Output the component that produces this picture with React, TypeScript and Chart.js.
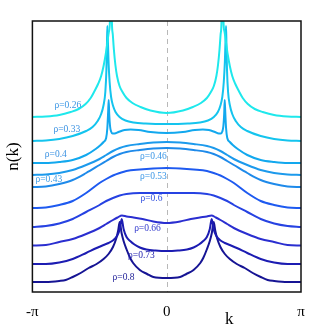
import { useEffect, useRef } from "react";
import { Chart, registerables } from "chart.js";

Chart.register(...registerables);

// k in units of pi; n(k) curves vertically offset (arbitrary units)
const K_TICKS = [-1, 0, 1];
const K_TICK_LABELS = ["-π", "0", "π"];

const RHO = ["ρ=0.26", "ρ=0.33", "ρ=0.4", "ρ=0.43", "ρ=0.46", "ρ=0.53", "ρ=0.6", "ρ=0.66", "ρ=0.73", "ρ=0.8"];

const K_026 = [-1, -0.9, -0.8, -0.715, -0.656, -0.604, -0.566, -0.537, -0.511, -0.488, -0.47, -0.455, -0.442, -0.431, -0.423, -0.416, -0.408, -0.401, -0.393, -0.382, -0.37, -0.351, -0.329, -0.299, -0.255, -0.195, -0.121, 0, 0.121, 0.195, 0.255, 0.299, 0.329, 0.351, 0.37, 0.382, 0.393, 0.401, 0.408, 0.416, 0.423, 0.431, 0.442, 0.455, 0.47, 0.488, 0.511, 0.537, 0.566, 0.604, 0.656, 0.715, 0.8, 0.9, 1];
const N_026 = [1.75, 1.755, 1.77, 1.8, 1.83, 1.88, 1.94, 2.01, 2.08, 2.16, 2.26, 2.37, 2.49, 2.6, 2.7, 3.4, 2.7, 2.57, 2.42, 2.27, 2.16, 2.06, 2.0, 1.94, 1.89, 1.85, 1.815, 1.79, 1.815, 1.85, 1.89, 1.94, 2.0, 2.06, 2.16, 2.27, 2.42, 2.57, 2.7, 3.4, 2.7, 2.6, 2.49, 2.37, 2.26, 2.16, 2.08, 2.01, 1.94, 1.88, 1.83, 1.8, 1.77, 1.755, 1.75];

const K_033 = [-1, -0.9, -0.8, -0.7, -0.6, -0.552, -0.514, -0.488, -0.47, -0.457, -0.449, -0.445, -0.442, -0.438, -0.433, -0.425, -0.414, -0.399, -0.381, -0.351, -0.307, -0.247, -0.158, 0, 0.158, 0.247, 0.307, 0.351, 0.381, 0.399, 0.414, 0.425, 0.433, 0.438, 0.442, 0.445, 0.449, 0.457, 0.47, 0.488, 0.514, 0.552, 0.6, 0.7, 0.8, 0.9, 1];
const N_033 = [1.51, 1.515, 1.53, 1.56, 1.61, 1.65, 1.71, 1.78, 1.87, 2.0, 2.22, 2.47, 2.66, 2.52, 2.3, 2.1, 1.95, 1.86, 1.8, 1.75, 1.715, 1.695, 1.685, 1.68, 1.685, 1.695, 1.715, 1.75, 1.8, 1.86, 1.95, 2.1, 2.3, 2.52, 2.66, 2.47, 2.22, 2.0, 1.87, 1.78, 1.71, 1.65, 1.61, 1.56, 1.53, 1.515, 1.51];

const K_040 = [-1, -0.9, -0.8, -0.7, -0.6, -0.529, -0.492, -0.47, -0.451, -0.442, -0.436, -0.432, -0.428, -0.422, -0.414, -0.403, -0.388, -0.359, -0.314, -0.269, -0.21, -0.121, 0, 0.121, 0.21, 0.269, 0.314, 0.359, 0.388, 0.403, 0.414, 0.422, 0.428, 0.432, 0.436, 0.442, 0.451, 0.47, 0.492, 0.529, 0.6, 0.7, 0.8, 0.9, 1];
const N_040 = [1.29, 1.29, 1.3, 1.32, 1.37, 1.43, 1.47, 1.5, 1.54, 1.64, 1.8, 1.92, 1.78, 1.66, 1.605, 1.585, 1.585, 1.6, 1.62, 1.625, 1.62, 1.6, 1.59, 1.6, 1.62, 1.625, 1.62, 1.6, 1.585, 1.585, 1.605, 1.66, 1.78, 1.92, 1.8, 1.64, 1.54, 1.5, 1.47, 1.43, 1.37, 1.32, 1.3, 1.29, 1.29];

const K_SMOOTH = [-1, -0.9, -0.8, -0.7, -0.6, -0.5, -0.45, -0.4, -0.35, -0.3, -0.2, -0.1, 0, 0.1, 0.2, 0.3, 0.35, 0.4, 0.45, 0.5, 0.6, 0.7, 0.8, 0.9, 1];
const N_043 = [1.17, 1.175, 1.19, 1.22, 1.27, 1.33, 1.37, 1.41, 1.44, 1.46, 1.48, 1.495, 1.5, 1.495, 1.48, 1.46, 1.44, 1.41, 1.37, 1.33, 1.27, 1.22, 1.19, 1.175, 1.17];
const N_046 = [1.05, 1.055, 1.08, 1.12, 1.19, 1.27, 1.31, 1.35, 1.38, 1.4, 1.42, 1.435, 1.44, 1.435, 1.42, 1.4, 1.38, 1.35, 1.31, 1.27, 1.19, 1.12, 1.08, 1.055, 1.05];
const N_053 = [0.84, 0.845, 0.87, 0.91, 0.99, 1.09, 1.13, 1.165, 1.19, 1.21, 1.225, 1.235, 1.24, 1.235, 1.225, 1.21, 1.19, 1.165, 1.13, 1.09, 0.99, 0.91, 0.87, 0.845, 0.84];
const N_060 = [0.65, 0.66, 0.685, 0.73, 0.8, 0.87, 0.91, 0.94, 0.965, 0.98, 0.99, 0.99, 0.99, 0.99, 0.99, 0.98, 0.965, 0.94, 0.91, 0.87, 0.8, 0.73, 0.685, 0.66, 0.65];

const K_066 = [-1, -0.9, -0.8, -0.7, -0.6, -0.5, -0.45, -0.4, -0.366, -0.333, -0.299, -0.247, -0.18, -0.1, 0, 0.1, 0.18, 0.247, 0.299, 0.333, 0.366, 0.4, 0.45, 0.5, 0.6, 0.7, 0.8, 0.9, 1];
const N_066 = [0.465, 0.47, 0.5, 0.53, 0.58, 0.64, 0.68, 0.72, 0.745, 0.765, 0.755, 0.745, 0.73, 0.705, 0.69, 0.705, 0.73, 0.745, 0.755, 0.765, 0.745, 0.72, 0.68, 0.64, 0.58, 0.53, 0.5, 0.47, 0.465];

const K_073 = [-1, -0.9, -0.8, -0.7, -0.6, -0.522, -0.47, -0.433, -0.396, -0.37, -0.351, -0.335, -0.321, -0.299, -0.272, -0.24, -0.2, -0.151, -0.084, 0, 0.084, 0.151, 0.2, 0.24, 0.272, 0.299, 0.321, 0.335, 0.351, 0.37, 0.396, 0.433, 0.47, 0.522, 0.6, 0.7, 0.8, 0.9, 1];
const N_073 = [0.28, 0.28, 0.295, 0.33, 0.39, 0.44, 0.47, 0.49, 0.52, 0.56, 0.62, 0.73, 0.63, 0.55, 0.51, 0.475, 0.445, 0.425, 0.415, 0.41, 0.415, 0.425, 0.445, 0.475, 0.51, 0.55, 0.63, 0.73, 0.62, 0.56, 0.52, 0.49, 0.47, 0.44, 0.39, 0.33, 0.295, 0.28, 0.28];

const K_080 = [-1, -0.9, -0.8, -0.752, -0.7, -0.641, -0.581, -0.522, -0.47, -0.433, -0.4, -0.377, -0.362, -0.35, -0.336, -0.321, -0.3, -0.272, -0.25, -0.2, -0.146, -0.1, 0, 0.1, 0.146, 0.2, 0.25, 0.272, 0.3, 0.321, 0.336, 0.35, 0.362, 0.377, 0.4, 0.433, 0.47, 0.522, 0.581, 0.641, 0.7, 0.752, 0.8, 0.9, 1];
const N_080 = [0.1, 0.1, 0.11, 0.12, 0.15, 0.19, 0.24, 0.28, 0.33, 0.38, 0.45, 0.53, 0.61, 0.7, 0.59, 0.51, 0.43, 0.34, 0.29, 0.22, 0.18, 0.15, 0.14, 0.15, 0.18, 0.22, 0.29, 0.34, 0.43, 0.51, 0.59, 0.7, 0.61, 0.53, 0.45, 0.38, 0.33, 0.28, 0.24, 0.19, 0.15, 0.12, 0.11, 0.1, 0.1];

const SERIES_K = [K_026, K_033, K_040, K_SMOOTH, K_SMOOTH, K_SMOOTH, K_SMOOTH, K_066, K_073, K_080];
const SERIES_N = [N_026, N_033, N_040, N_043, N_046, N_053, N_060, N_066, N_073, N_080];

const LINE_COLORS = ["#1ee8ec", "#14c4ee", "#12a8ee", "#1c9aec", "#1e8aea", "#1e5af0", "#2642e2", "#2a2ed0", "#1c1cb2", "#161494"];
const LABEL_COLORS = ["#3a96e4", "#3a92e2", "#3a92e2", "#3a9ce6", "#3a96e6", "#3a96e6", "#3250e0", "#3038cc", "#2424b0", "#1c1c96"];

// label anchors (k/pi, n)
const LABEL_K = [-0.736, -0.744, -0.826, -0.878, -0.099, -0.099, -0.114, -0.143, -0.188, -0.321];
const LABEL_N = [1.87, 1.63, 1.38, 1.13, 1.36, 1.16, 0.94, 0.64, 0.37, 0.15];

const X_TITLE = "k";
const X_TITLE_K = 0.465;
const Y_TITLE = "n(k)";

const SERIF = "'Liberation Serif', 'DejaVu Serif', serif";

const overlay = {
  id: "overlay",
  beforeDatasetsDraw(chart: any) {
    const { ctx, chartArea: a, scales } = chart;
    const x0 = Math.round(scales.x.getPixelForValue(0)) + 0.5;
    ctx.save();
    ctx.strokeStyle = "#b8b8b8";
    ctx.lineWidth = 1;
    ctx.setLineDash([5, 4]);
    ctx.beginPath();
    ctx.moveTo(x0, a.top);
    ctx.lineTo(x0, a.bottom);
    ctx.stroke();
    ctx.restore();
  },
  afterDatasetsDraw(chart: any) {
    const { ctx, chartArea: a, scales } = chart;
    ctx.save();
    ctx.strokeStyle = "#111";
    ctx.lineWidth = 1.5;
    ctx.strokeRect(a.left, a.top, a.right - a.left, a.bottom - a.top);
    ctx.font = `9.5px ${SERIF}`;
    ctx.textAlign = "center";
    ctx.textBaseline = "middle";
    RHO.forEach((t, i) => {
      ctx.fillStyle = LABEL_COLORS[i];
      ctx.fillText(t, scales.x.getPixelForValue(LABEL_K[i]), scales.y.getPixelForValue(LABEL_N[i]));
    });
    ctx.fillStyle = "#000";
    ctx.font = `17px ${SERIF}`;
    ctx.fillText(X_TITLE, scales.x.getPixelForValue(X_TITLE_K), a.bottom + 28);
    ctx.restore();
  },
};

export default function App() {
  const ref = useRef<HTMLCanvasElement | null>(null);
  useEffect(() => {
    document.body.style.margin = "0";
    document.body.style.overflow = "hidden";
    const canvas = ref.current;
    if (!canvas) return;
    const chart = new Chart(canvas, {
      type: "line",
      data: {
        datasets: SERIES_N.map((ns, i) => ({
          label: RHO[i],
          data: ns.map((n, j) => ({ x: SERIES_K[i][j], y: n })),
          borderColor: LINE_COLORS[i],
          borderWidth: 2,
          pointRadius: 0,
          fill: false,
          cubicInterpolationMode: "monotone" as const,
        })),
      },
      options: {
        animation: false,
        responsive: false,
        devicePixelRatio: 1,
        layout: { padding: { left: 0, right: 31, top: 21, bottom: 0 } },
        plugins: { legend: { display: false }, tooltip: { enabled: false } },
        scales: {
          x: {
            type: "linear",
            min: -1,
            max: 1,
            grid: { display: false, drawTicks: false },
            border: { display: false },
            afterBuildTicks: (s: any) => {
              s.ticks = K_TICKS.map((v) => ({ value: v }));
            },
            ticks: {
              autoSkip: false,
              maxRotation: 0,
              padding: 11,
              color: "#000",
              font: { family: SERIF, size: 15 },
              callback: (_v: any, i: number) => K_TICK_LABELS[i],
            },
          },
          y: {
            type: "linear",
            min: 0,
            max: 2.71,
            grid: { display: false, drawTicks: false },
            border: { display: false },
            ticks: { display: false },
            title: {
              display: true,
              text: Y_TITLE,
              color: "#000",
              font: { family: SERIF, size: 17 },
              padding: { top: 3, bottom: 9 },
            },
          },
        },
      },
      plugins: [overlay],
    });
    return () => chart.destroy();
  }, []);
  return <canvas ref={ref} width={332} height={332} style={{ display: "block" }} />;
}
